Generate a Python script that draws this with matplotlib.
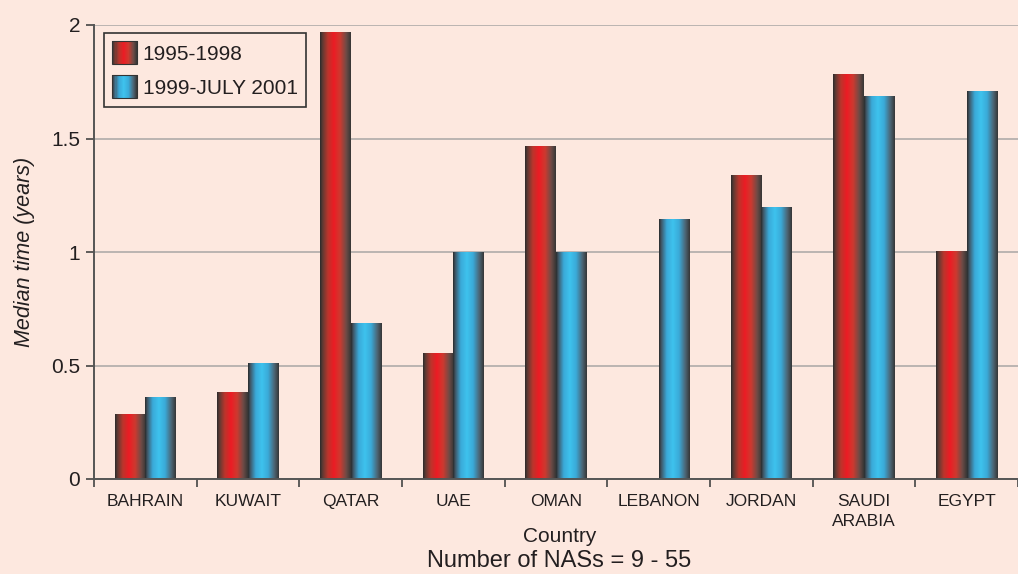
import numpy as np
import matplotlib.pyplot as plt
from matplotlib.colors import LinearSegmentedColormap
from matplotlib.legend_handler import HandlerBase
from matplotlib.patches import Rectangle

plt.rcParams['font.family'] = ['Liberation Sans', 'DejaVu Sans']

countries = ['BAHRAIN', 'KUWAIT', 'QATAR', 'UAE', 'OMAN', 'LEBANON',
             'JORDAN', 'SAUDI\nARABIA', 'EGYPT']
early = [0.286, 0.383, 1.965, 0.555, 1.463, 0.0, 1.335, 1.78, 1.004]
late = [0.357, 0.511, 0.687, 0.996, 0.996, 1.141, 1.198, 1.687, 1.709]
series_names = ['1995-1998', '1999-JULY 2001']
yticks = [0, 0.5, 1, 1.5, 2]

bg = '#fde8df'
ink = '#231f20'

# horizontal shading across each bar: dark edges, bright centre
stops = [0.0, 0.08, 0.25, 0.45, 0.65, 0.85, 1.0]
red_cm = LinearSegmentedColormap.from_list('redbar', list(zip(stops, [
    '#2b2b2b', '#5e3a33', '#b9352c', '#ed1c24', '#cc3a30', '#6e4b46', '#363636'])))
blue_cm = LinearSegmentedColormap.from_list('bluebar', list(zip(stops, [
    '#2b2b2b', '#40596a', '#3aa9d8', '#3ec3ee', '#3aaad8', '#4c6676', '#363636'])))
grad = np.linspace(0, 1, 256).reshape(1, -1)


# legend key drawn as thin strips so it carries the same shading as the bars
class GradientHandler(HandlerBase):
    def __init__(self, cmap):
        super().__init__()
        self.cmap = cmap

    def create_artists(self, legend, orig, xd, yd, w, h, fs, trans):
        n = 24
        arts = []
        for i in range(n):
            arts.append(Rectangle((-xd + w * i / n, -yd), w / n + 0.3, h,
                                  facecolor=self.cmap((i + 0.5) / n),
                                  edgecolor='none', transform=trans))
        arts.append(Rectangle((-xd, -yd), w, h, facecolor='none',
                              edgecolor='#333333', lw=0.8, transform=trans))
        return arts


fig = plt.figure(figsize=(10.18, 5.74), dpi=100, facecolor=bg)
ax = fig.add_axes([94 / 1018, 1 - 479 / 574, 1 - 94 / 1018, (479 - 25) / 574])
ax.set_facecolor(bg)

x = np.arange(len(countries))
w = 0.3
b1 = ax.bar(x - w / 2, early, w, color='none', label=series_names[0], zorder=2)
b2 = ax.bar(x + w / 2, late, w, color='none', label=series_names[1], zorder=2)

for bars, cm in ((b1, red_cm), (b2, blue_cm)):
    for r in bars:
        if r.get_height() <= 0:
            continue
        ax.imshow(grad, cmap=cm, aspect='auto', zorder=2,
                  extent=[r.get_x(), r.get_x() + r.get_width(), 0, r.get_height()])

ax.set_xlim(-0.5, len(countries) - 0.5)
ax.set_ylim(0, 2)
ax.set_yticks(yticks)
ax.set_yticklabels(['0', '0.5', '1', '1.5', '2'])
ax.yaxis.grid(True, color='#b0abaa', lw=1.2, zorder=0)
ax.set_axisbelow(True)

ax.set_xticks(x)
ax.set_xticklabels(countries, fontsize=12.5, color=ink, va='top', linespacing=1.4)
ax.set_xticks(np.arange(len(countries) + 1) - 0.5, minor=True)
ax.tick_params(axis='x', which='major', length=0, pad=11)
ax.tick_params(axis='x', which='minor', length=6, width=1.2, color='#444444')
ax.tick_params(axis='y', length=6, width=1.2, color='#444444', labelsize=15,
               labelcolor=ink, pad=4)

for side in ('top', 'right'):
    ax.spines[side].set_visible(False)
for side in ('left', 'bottom'):
    ax.spines[side].set_color('#555555')
    ax.spines[side].set_linewidth(1.4)

fig.text(25 / 1018, 1 - 252 / 574, 'Median time (years)', rotation=90,
         fontsize=15.5, style='italic', color=ink, ha='center', va='center')
fig.text(560 / 1018, 1 - 537 / 574, 'Country', fontsize=15,
         color=ink, ha='center', va='center')
fig.text(559 / 1018, 1 - 561 / 574, 'Number of NASs = 9 - 55', fontsize=17,
         color=ink, ha='center', va='center')

leg = ax.legend(handler_map={b1: GradientHandler(red_cm), b2: GradientHandler(blue_cm)},
                loc='upper left', bbox_to_anchor=(10 / 924, 1 - 8 / 454),
                fontsize=15, frameon=True, fancybox=False, handlelength=1.2,
                handleheight=1.3, handletextpad=0.25, labelspacing=0.55,
                borderpad=0.4, borderaxespad=0)
frame = leg.get_frame()
frame.set_facecolor(bg)
frame.set_edgecolor('#333333')
frame.set_linewidth(1.2)
frame.set_alpha(1)
for t in leg.get_texts():
    t.set_color(ink)

# stretch the legend frame to a fixed width with some room after the text
fig.canvas.draw()
fb = frame.get_bbox()
frame.set_bounds(fb.x0, fb.y0, 206, fb.height)

fig.savefig('out.png', dpi=100, facecolor=bg)
